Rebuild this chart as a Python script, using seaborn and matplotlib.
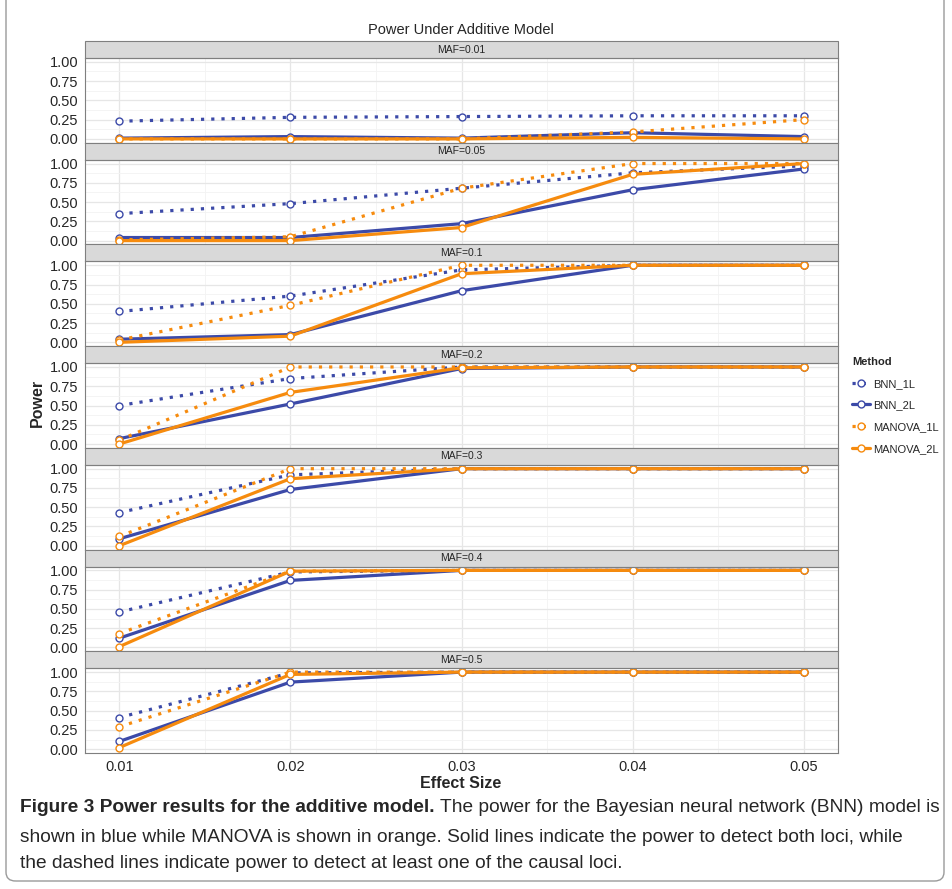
import pandas as pd
import seaborn as sns
from matplotlib import pyplot as plt
from matplotlib.lines import Line2D
from matplotlib.patches import Rectangle, FancyBboxPatch
from matplotlib.ticker import FixedLocator

# valori
effect_size = [0.01, 0.02, 0.03, 0.04, 0.05]
maf_labels = ["MAF=0.01", "MAF=0.05", "MAF=0.1", "MAF=0.2", "MAF=0.3", "MAF=0.4", "MAF=0.5"]
methods = ["BNN_1L", "BNN_2L", "MANOVA_1L", "MANOVA_2L"]

bnn_1l = [[0.23, 0.28, 0.29, 0.30, 0.30],
          [0.35, 0.48, 0.68, 0.88, 0.97],
          [0.40, 0.60, 0.94, 1.00, 1.00],
          [0.50, 0.85, 1.00, 1.00, 1.00],
          [0.43, 0.92, 1.00, 1.00, 1.00],
          [0.46, 0.98, 1.00, 1.00, 1.00],
          [0.41, 0.99, 1.00, 1.00, 1.00]]
bnn_2l = [[0.01, 0.03, 0.01, 0.08, 0.03],
          [0.04, 0.04, 0.22, 0.66, 0.93],
          [0.04, 0.10, 0.67, 1.00, 1.00],
          [0.07, 0.52, 0.98, 1.00, 1.00],
          [0.09, 0.73, 1.00, 1.00, 1.00],
          [0.12, 0.87, 1.00, 1.00, 1.00],
          [0.10, 0.87, 1.00, 1.00, 1.00]]
manova_1l = [[0.00, 0.00, 0.00, 0.09, 0.25],
             [0.01, 0.05, 0.68, 1.00, 1.00],
             [0.03, 0.48, 1.00, 1.00, 1.00],
             [0.05, 1.00, 1.00, 1.00, 1.00],
             [0.12, 1.00, 1.00, 1.00, 1.00],
             [0.18, 0.99, 1.00, 1.00, 1.00],
             [0.29, 1.00, 1.00, 1.00, 1.00]]
manova_2l = [[0.00, 0.00, 0.00, 0.02, 0.00],
             [0.00, 0.00, 0.17, 0.86, 1.00],
             [0.00, 0.08, 0.89, 1.00, 1.00],
             [0.00, 0.67, 0.99, 1.00, 1.00],
             [0.00, 0.87, 1.00, 1.00, 1.00],
             [0.01, 0.99, 1.00, 1.00, 1.00],
             [0.02, 0.97, 1.00, 1.00, 1.00]]

blu = "#3C4AA8"
arancio = "#F68B0E"
colori = {"BNN_1L": blu, "BNN_2L": blu, "MANOVA_1L": arancio, "MANOVA_2L": arancio}
stili = {"BNN_1L": (0, (1, 2.2)), "BNN_2L": "-", "MANOVA_1L": (0, (1, 2.2)), "MANOVA_2L": "-"}

# tabella lunga
righe = []
for serie, nome in zip([bnn_1l, bnn_2l, manova_1l, manova_2l], methods):
    for maf, valori in zip(maf_labels, serie):
        for x, y in zip(effect_size, valori):
            righe.append({"MAF": maf, "Method": nome, "Effect": x, "Power": y})
df = pd.DataFrame(righe)

sns.set_style("white")
plt.rcParams['font.family'] = ['Liberation Sans', 'DejaVu Sans']

fig, axes = plt.subplots(7, 1, sharex=True, figsize=(9.52, 8.89), dpi=100)
fig.subplots_adjust(left=85/952, right=838/952, top=1-58/889, bottom=1-753/889, hspace=0.2)

for ax, maf in zip(axes, maf_labels):
    sub = df[df["MAF"] == maf]
    for m in methods:
        sns.lineplot(data=sub[sub["Method"] == m], x="Effect", y="Power", ax=ax,
                     color=colori[m], linestyle=stili[m], linewidth=2.3,
                     marker="o", markersize=5, mfc="white", mec=colori[m], mew=1.0,
                     legend=False)
    for ln in ax.lines:
        ln.set_dash_capstyle("butt")
    ax.set_xlim(0.008, 0.052)
    ax.set_ylim(-0.05, 1.05)
    ax.xaxis.set_major_locator(FixedLocator(effect_size))
    ax.xaxis.set_minor_locator(FixedLocator([0.015, 0.025, 0.035, 0.045]))
    ax.yaxis.set_major_locator(FixedLocator([0, 0.25, 0.5, 0.75, 1.0]))
    ax.yaxis.set_minor_locator(FixedLocator([0.125, 0.375, 0.625, 0.875]))
    ax.set_yticklabels(["0.00", "0.25", "0.50", "0.75", "1.00"])
    ax.grid(which="major", color="#E6E6E6", linewidth=0.9)
    ax.grid(which="minor", color="#F3F3F3", linewidth=0.6)
    ax.set_axisbelow(True)
    for s in ax.spines.values():
        s.set_color("#7F7F7F")
        s.set_linewidth(0.8)
    ax.tick_params(axis="both", which="major", length=3, color="#555555", labelsize=10.5, pad=2)
    ax.tick_params(axis="both", which="minor", length=0)
    ax.set_xlabel("")
    ax.set_ylabel("")
    # striscia del pannello
    ax.add_patch(Rectangle((0, 1), 1, 17/85, transform=ax.transAxes, clip_on=False,
                           facecolor="#D9D9D9", edgecolor="#7F7F7F", linewidth=0.8))
    ax.text(0.5, 1 + 8.5/85, maf, transform=ax.transAxes, ha="center", va="center", fontsize=7.5)

axes[-1].set_xticklabels(["0.01", "0.02", "0.03", "0.04", "0.05"])
axes[-1].tick_params(axis="x", labelsize=10.5, pad=2)

fig.text(461/952, 1-30/889, "Power Under Additive Model", ha="center", va="center", fontsize=10.5)
fig.text(37/952, 1-403/889, "Power", rotation=90, ha="center", va="center", fontsize=11.5, fontweight="bold")
fig.text(461/952, 1-783/889, "Effect Size", ha="center", va="center", fontsize=11.5, fontweight="bold")

# legenda
maniglie = [Line2D([], [], color=colori[m], linestyle=stili[m], linewidth=2.3, marker="o",
                   markersize=5, mfc="white", mec=colori[m], mew=1.0) for m in methods]
leg = fig.legend(maniglie, methods, title="Method", loc="upper left",
                 bbox_to_anchor=(852/952, 1-357/889), frameon=False, fontsize=8,
                 handlelength=1.6, labelspacing=1.05, handletextpad=0.3, borderpad=0,
                 borderaxespad=0, title_fontproperties={"weight": "bold", "size": 8})
leg._legend_box.align = "left"

# cornice
fig.patches.append(FancyBboxPatch((6/952, 8/889), 938/952, 900/889, transform=fig.transFigure,
                                  boxstyle="round,pad=0,rounding_size=0.01", facecolor="none",
                                  edgecolor="#9A9A9A", linewidth=1.0, figure=fig))

# didascalia
cap_size = 13.8
t1 = fig.text(20/952, 1-808/889, "Figure 3 Power results for the additive model.", fontsize=cap_size,
              fontweight="bold", va="center")
fig.canvas.draw()
bb = t1.get_window_extent(renderer=fig.canvas.get_renderer())
fig.text(bb.x1/952 + 5/952, 1-808/889, "The power for the Bayesian neural network (BNN) model is",
         fontsize=cap_size, va="center")
fig.text(20/952, 1-837/889,
         "shown in blue while MANOVA is shown in orange. Solid lines indicate the power to detect both loci, while",
         fontsize=cap_size, va="center")
fig.text(20/952, 1-864/889, "the dashed lines indicate power to detect at least one of the causal loci.",
         fontsize=cap_size, va="center")

plt.savefig("out.png", dpi=100)
